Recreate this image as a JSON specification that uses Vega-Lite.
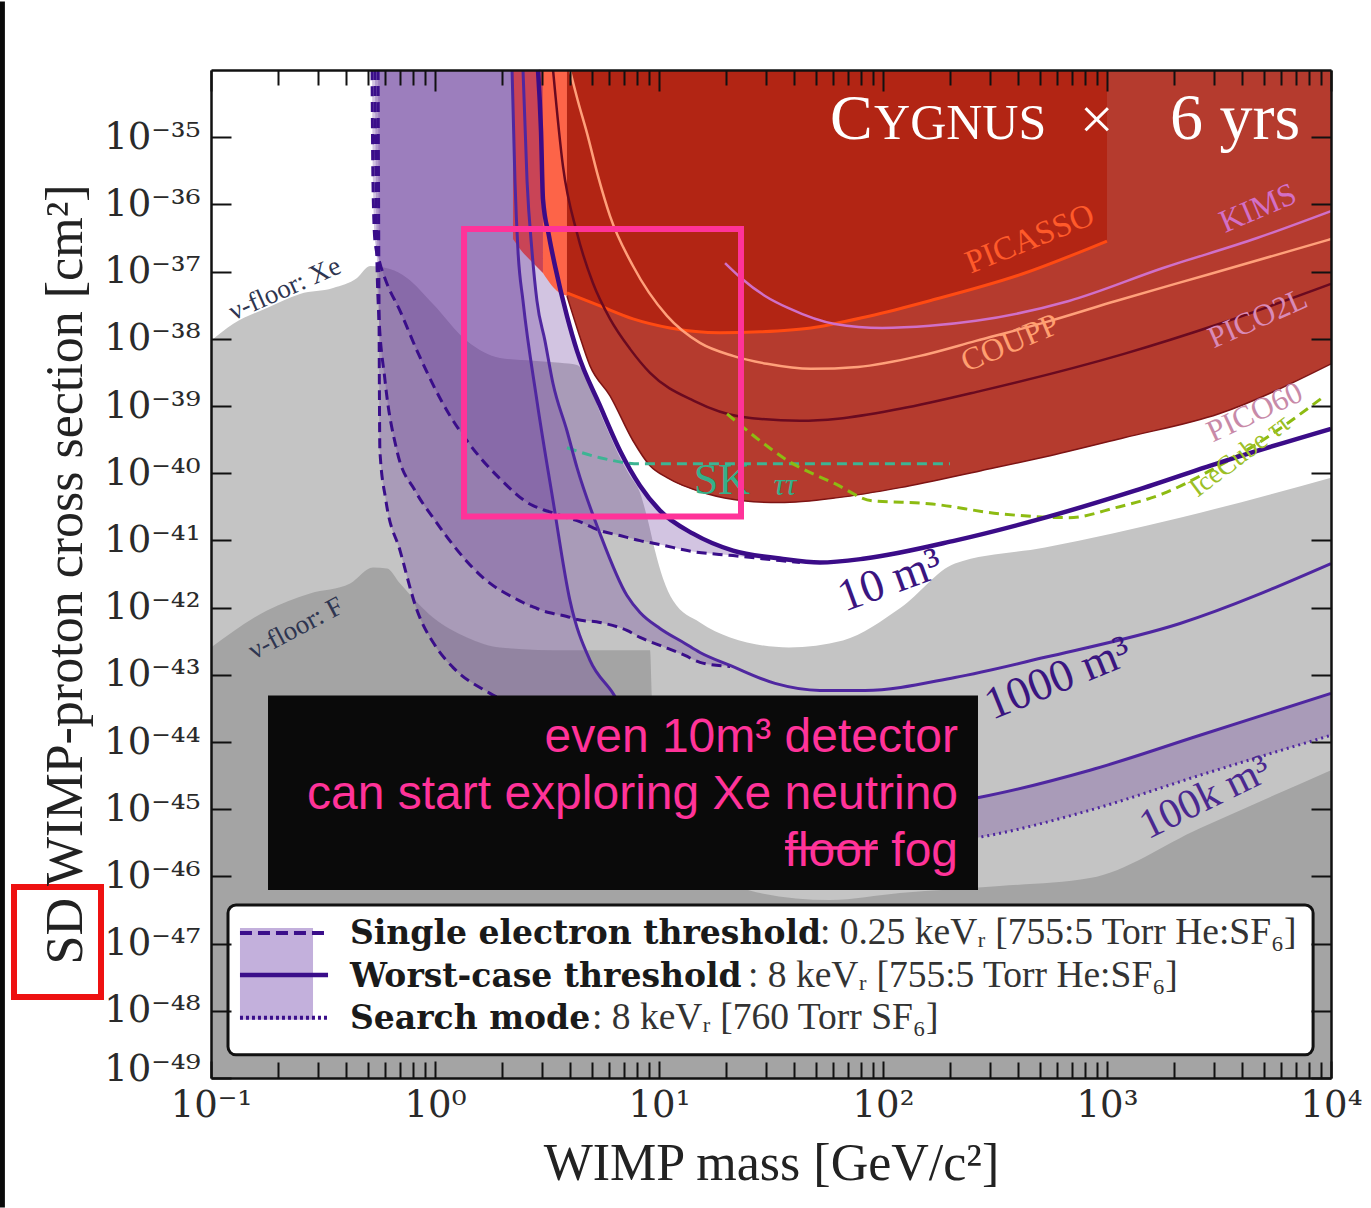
{
"$schema": "https://vega.github.io/schema/vega-lite/v6.json",
"width": 1120, "height": 1008,
"autosize": {"type": "none"},
"padding": {"left": 211, "top": 70, "right": 40, "bottom": 130},
"background": "white",
"config": {"view": {"stroke": null}, "font": "Liberation Serif"},
"resolve": {"axis": {"x": "independent", "y": "independent"}},
"datasets": {
"xe": [{"m":0.1,"s":9.31e-39},{"m":0.1253,"s":1.66e-38},{"m":0.1778,"s":2.88e-38},{"m":0.2495,"s":4.65e-38},{"m":0.3508,"s":5.7e-38},{"m":0.4487,"s":8.04e-38},{"m":0.5129,"s":1.21e-37},{"m":0.6295,"s":1.09e-37},{"m":0.7499,"s":8.04e-38},{"m":0.9796,"s":3.3e-38},{"m":1.389,"s":9.31e-39},{"m":1.95,"s":5.2e-39},{"m":2.739,"s":4.7e-39},{"m":3.614,"s":4.39e-39},{"m":4.305,"s":4.09e-39},{"m":4.92,"s":2.0e-39},{"m":5.453,"s":7.92e-40},{"m":6.045,"s":3.61e-40},{"m":6.698,"s":1.7e-40},{"m":7.422,"s":9.18e-41},{"m":8.227,"s":5.13e-41},{"m":8.924,"s":1.97e-41},{"m":9.594,"s":7.05e-42},{"m":10.42,"s":2.7e-42},{"m":11.55,"s":1.27e-42},{"m":15.24,"s":6.01e-43},{"m":20.77,"s":3.6e-43},{"m":38.05,"s":2.55e-43},{"m":66.26,"s":3.24e-43},{"m":120.3,"s":1.0e-42},{"m":209.5,"s":4.52e-42},{"m":528.4,"s":7.82e-42},{"m":2118,"s":2.18e-41},{"m":10000,"s":8.57e-41}],
"ff": [{"m":0.1,"s":2.55e-43},{"m":0.1778,"s":9.05e-43},{"m":0.2767,"s":1.62e-42},{"m":0.4178,"s":2.28e-42},{"m":0.5284,"s":3.94e-42},{"m":0.6109,"s":3.81e-42},{"m":0.6982,"s":2.28e-42},{"m":0.9796,"s":7.13e-43},{"m":1.389,"s":3.6e-43},{"m":1.95,"s":2.55e-43},{"m":3.882,"s":2.31e-43},{"m":9.12,"s":2.31e-43},{"m":9.31,"s":4.17e-44},{"m":15.24,"s":2.46e-46},{"m":28.25,"s":5.65e-47},{"m":57.99,"s":4.45e-47},{"m":119.1,"s":5.65e-47},{"m":332.7,"s":7.18e-47},{"m":839.5,"s":9.44e-47},{"m":2600,"s":5.22e-46},{"m":10000,"s":3.8e-45}],
"b10": [{"m":0.5236,"lo":1e-34,"hi":1e-34},{"m":0.5284,"lo":2.22e-36,"hi":1e-34},{"m":0.5395,"lo":2.85e-37,"hi":1e-34},{"m":0.5675,"lo":1.34e-37,"hi":1e-34},{"m":0.6039,"lo":7.24e-38,"hi":1e-34},{"m":0.6982,"lo":2.6e-38,"hi":1e-34},{"m":0.8318,"lo":6.61e-39,"hi":1e-34},{"m":1.167,"lo":7.15e-40,"hi":1e-34},{"m":1.389,"lo":3.04e-40,"hi":1e-34},{"m":1.95,"lo":8.28e-41,"hi":1e-34},{"m":2.739,"lo":3.29e-41,"hi":1e-34},{"m":2.884,"lo":3.07e-41,"hi":1e-34},{"m":2.974,"lo":2.97e-41,"hi":1.23e-35},{"m":3.034,"lo":2.87e-41,"hi":1.2e-36},{"m":3.228,"lo":2.68e-41,"hi":3.38e-37},{"m":3.434,"lo":2.5e-41,"hi":1.21e-37},{"m":3.882,"lo":2.18e-41,"hi":2.19e-38},{"m":4.305,"lo":1.97e-41,"hi":6.61e-39},{"m":5.453,"lo":1.4e-41,"hi":1.01e-39},{"m":6.698,"lo":1.18e-41,"hi":2.16e-40},{"m":8.227,"lo":9.93e-42,"hi":6.52e-41},{"m":10.1,"lo":8.67e-42,"hi":2.77e-41},{"m":14.19,"lo":6.81e-42,"hi":1.26e-41},{"m":21.4,"lo":5.94e-42,"hi":7.05e-42},{"m":34.68,"lo":5.01e-42,"hi":5.37e-42},{"m":42.59,"lo":4.68e-42,"hi":4.84e-42}],
"s10": [{"m":2.884,"s":1e-34},{"m":2.974,"s":1.23e-35},{"m":3.034,"s":1.2e-36},{"m":3.228,"s":3.38e-37},{"m":3.434,"s":1.21e-37},{"m":3.882,"s":2.19e-38},{"m":4.305,"s":6.61e-39},{"m":5.453,"s":1.01e-39},{"m":6.698,"s":2.16e-40},{"m":8.227,"s":6.52e-41},{"m":10.1,"s":2.77e-41},{"m":14.19,"s":1.26e-41},{"m":21.4,"s":7.05e-42},{"m":34.68,"s":5.37e-42},{"m":52.3,"s":4.68e-42},{"m":83.09,"s":5.37e-42},{"m":209.5,"s":9.93e-42},{"m":528.4,"s":2.18e-41},{"m":1334,"s":5.5e-41},{"m":3365,"s":1.53e-40},{"m":10000,"s":4.58e-40}],
"b1000": [{"m":0.5395,"lo":1e-34,"hi":1e-34},{"m":0.5457,"lo":1.12e-36,"hi":1e-34},{"m":0.5572,"lo":3.66e-38,"hi":1e-34},{"m":0.5984,"lo":2.37e-39,"hi":1e-34},{"m":0.6761,"lo":2.16e-40,"hi":1e-34},{"m":0.8147,"lo":5.5e-41,"hi":1e-34},{"m":0.9796,"lo":2.18e-41,"hi":1e-34},{"m":1.637,"lo":2.8e-42,"hi":1e-34},{"m":2.471,"lo":1.19e-42,"hi":1e-34},{"m":2.576,"lo":1.11e-42,"hi":2.22e-36},{"m":2.71,"lo":1.04e-42,"hi":2.02e-37},{"m":2.852,"lo":9.7e-43,"hi":3.66e-38},{"m":3.097,"lo":8.75e-43,"hi":9.31e-39},{"m":3.365,"lo":8.17e-43,"hi":2.14e-39},{"m":3.882,"lo":7.38e-43,"hi":4.28e-40},{"m":4.305,"lo":6.65e-43,"hi":1.21e-40},{"m":5.453,"lo":6.01e-43,"hi":1.26e-41},{"m":7.194,"lo":4.57e-43,"hi":1.51e-42},{"m":8.227,"lo":3.6e-43,"hi":8.45e-43},{"m":10.1,"lo":2.74e-43,"hi":4.89e-43},{"m":13.06,"lo":1.94e-43,"hi":2.93e-43},{"m":15.24,"lo":1.53e-43,"hi":2.15e-43},{"m":20.77,"lo":1.33e-43,"hi":1.38e-43}],
"s1000": [{"m":2.471,"s":1e-34},{"m":2.576,"s":2.22e-36},{"m":2.71,"s":2.02e-37},{"m":2.852,"s":3.66e-38},{"m":3.097,"s":9.31e-39},{"m":3.365,"s":2.14e-39},{"m":3.882,"s":4.28e-40},{"m":4.305,"s":1.21e-40},{"m":5.453,"s":1.26e-41},{"m":7.194,"s":1.51e-42},{"m":8.227,"s":8.45e-43},{"m":10.1,"s":4.89e-43},{"m":13.06,"s":2.93e-43},{"m":15.24,"s":2.15e-43},{"m":20.77,"s":1.38e-43},{"m":32.96,"s":7.45e-44},{"m":52.3,"s":5.86e-44},{"m":83.09,"s":5.86e-44},{"m":209.5,"s":9.14e-44},{"m":528.4,"s":1.82e-43},{"m":2118,"s":5.8e-43},{"m":10000,"s":4.52e-42}],
"b100k": [{"m":0.5572,"lo":1e-34,"hi":1e-34},{"m":0.5623,"lo":3.66e-38,"hi":1e-34},{"m":0.5675,"lo":2.16e-40,"hi":1e-34},{"m":0.6039,"lo":3.9e-41,"hi":1e-34},{"m":0.6982,"lo":7.05e-42,"hi":1e-34},{"m":0.8318,"lo":9.05e-43,"hi":1e-34},{"m":1.0,"lo":2.74e-43,"hi":1e-34},{"m":1.202,"lo":1.29e-43,"hi":1e-34},{"m":1.76,"lo":5.29e-44,"hi":1e-34},{"m":2.208,"lo":3.51e-44,"hi":1e-34},{"m":2.275,"lo":3.28e-44,"hi":2.22e-36},{"m":2.347,"lo":3.17e-44,"hi":2.02e-37},{"m":2.471,"lo":2.86e-44,"hi":3.66e-38},{"m":2.852,"lo":2.33e-44,"hi":1.19e-39},{"m":3.365,"lo":1.83e-44,"hi":3.9e-41},{"m":4.005,"lo":1.44e-44,"hi":1.27e-42},{"m":4.92,"lo":1.06e-44,"hi":1.64e-43},{"m":6.233,"lo":7.53e-45,"hi":5.29e-44},{"m":8.227,"lo":4.51e-45,"hi":1.06e-44},{"m":12.41,"lo":1.61e-45,"hi":3.2e-45},{"m":23.0,"lo":9.66e-46,"hi":1.36e-45},{"m":42.59,"lo":4.88e-46,"hi":9.66e-46},{"m":97.0,"lo":2.64e-46,"hi":9.66e-46},{"m":271.0,"lo":3.84e-46,"hi":1.51e-45},{"m":839.5,"lo":9.66e-46,"hi":3.8e-45},{"m":2600,"lo":3.2e-45,"hi":1.26e-44},{"m":10000,"lo":1.26e-44,"hi":5.29e-44}],
"pink": [{"m":2.229,"lo":3.05e-37},{"m":2.396,"lo":2.17e-37},{"m":2.739,"lo":1.34e-37},{"m":3.034,"lo":9.53e-38}],
"tomato": [{"m":3.034,"lo":9.53e-38},{"m":3.505,"lo":5.15e-38},{"m":3.882,"lo":4.34e-38}],
"p60": [{"m":3.882,"lo":4.34e-38},{"m":4.348,"lo":1.31e-38},{"m":4.92,"lo":3.95e-39},{"m":6.045,"lo":1.42e-39},{"m":7.656,"lo":3.04e-40},{"m":9.12,"lo":1.29e-40},{"m":10.86,"lo":8.57e-41},{"m":16.38,"lo":4.95e-41},{"m":23.71,"lo":3.9e-41},{"m":34.68,"lo":3.65e-41},{"m":62.95,"lo":4.33e-41},{"m":119.1,"lo":6.1e-41},{"m":273.8,"lo":1.09e-40},{"m":556.9,"lo":1.82e-40},{"m":1191,"lo":3.37e-40},{"m":3162,"lo":7.66e-40},{"m":10000,"lo":4.24e-39}],
"pic": [{"m":3.882,"lo":4.81e-38},{"m":5.453,"lo":3.08e-38},{"m":7.656,"lo":1.98e-38},{"m":11.2,"lo":1.45e-38},{"m":18.71,"lo":1.23e-38},{"m":28.25,"lo":1.27e-38},{"m":47.71,"lo":1.45e-38},{"m":87.54,"lo":2.19e-38},{"m":160.4,"lo":3.66e-38},{"m":417.8,"lo":9.2e-38},{"m":1000,"lo":2.85e-37}],
"pico2l": [{"m":3.365,"s":1e-34},{"m":3.726,"s":3.71e-36},{"m":4.305,"s":3.75e-37},{"m":5.07,"s":6.77e-38},{"m":6.045,"s":1.98e-38},{"m":7.422,"s":7.08e-39},{"m":9.12,"s":3.11e-39},{"m":14.32,"s":1.19e-39},{"m":23.23,"s":6.92e-40},{"m":42.59,"s":6.03e-40},{"m":62.95,"s":6.46e-40},{"m":119.1,"s":9.08e-40},{"m":273.8,"s":1.68e-39},{"m":1191,"s":5.97e-39},{"m":3162,"s":1.66e-38},{"m":10000,"s":6.55e-38}],
"coupp": [{"m":4.005,"s":1e-34},{"m":4.348,"s":3.43e-35},{"m":4.771,"s":1.15e-35},{"m":5.343,"s":2.63e-36},{"m":6.045,"s":6.7e-37},{"m":7.656,"s":1.21e-37},{"m":10.86,"s":2.19e-38},{"m":15.24,"s":8.69e-39},{"m":21.4,"s":5.57e-39},{"m":30.36,"s":4.24e-39},{"m":47.71,"s":3.57e-39},{"m":77.3,"s":3.82e-39},{"m":146.2,"s":5.57e-39},{"m":260,"s":9.31e-39},{"m":556.9,"s":1.85e-38},{"m":1096,"s":3.66e-38},{"m":2884,"s":9.2e-38},{"m":10000,"s":3.05e-37}],
"kims": [{"m":19.72,"s":1.34e-37},{"m":23.23,"s":8.04e-38},{"m":29.74,"s":4.34e-38},{"m":37.67,"s":2.88e-38},{"m":61.05,"s":1.66e-38},{"m":99.0,"s":1.45e-38},{"m":162.1,"s":1.56e-38},{"m":260,"s":1.85e-38},{"m":676.1,"s":3.66e-38},{"m":1778,"s":1.13e-37},{"m":4677,"s":3.16e-37},{"m":10000,"s":7.95e-37}],
"sk": [{"m":3.882,"s":2.39e-40},{"m":5.453,"s":1.7e-40},{"m":8.227,"s":1.38e-40},{"m":15.24,"s":1.38e-40},{"m":42.59,"s":1.38e-40},{"m":199.1,"s":1.38e-40}],
"ice": [{"m":20.12,"s":7.66e-40},{"m":28.25,"s":3.04e-40},{"m":37.67,"s":1.53e-40},{"m":61.05,"s":6.98e-41},{"m":89.34,"s":3.9e-41},{"m":160.4,"s":3.52e-41},{"m":329.6,"s":2.5e-41},{"m":676.1,"s":2.18e-41},{"m":1096,"s":3.07e-41},{"m":1778,"s":4.95e-41},{"m":2884,"s":1.09e-40},{"m":4677,"s":2.74e-40},{"m":9397,"s":1.42e-39}],
"labels": [{"k":"cygC","m":57.99,"s":9.34e-36,"text":"C"},{"k":"cygY","m":91.2,"s":9.34e-36,"text":"YGNUS"},{"k":"cygX","m":900,"s":9.34e-36,"text":"×"},{"k":"cygR","m":7278,"s":9.34e-36,"text":"6 yrs"},{"k":"picasso","m":453,"s":3.05e-37,"text":"PICASSO"},{"k":"kims","m":4721,"s":8.81e-37,"text":"KIMS"},{"k":"coupp","m":369,"s":8.69e-39,"text":"COUPP"},{"k":"pico2l","m":4721,"s":1.98e-38,"text":"PICO2L"},{"k":"pico60","m":4581,"s":7.92e-40,"text":"PICO60"},{"k":"ice","m":3926,"s":1.82e-40,"text":"IceCube ττ"},{"k":"sk","m":19.1,"s":7.74e-41,"text":"SK"},{"k":"sktt","m":36.5,"s":6.75e-41,"text":"ττ"},{"k":"v10","m":107.5,"s":2.53e-42,"text":"10 m³"},{"k":"v1000","m":604,"s":8.85e-44,"text":"1000 m³"},{"k":"v100k","m":2742,"s":1.51e-45,"text":"100k m³"},{"k":"xe","m":0.2138,"s":5.51e-38,"text":"ν-floor: Xe"},{"k":"f","m":0.2395,"s":4.89e-43,"text":"ν-floor: F"}],
"boxes": [{"k":"frame","m1":0.01143,"m2":0.01202,"s1":1.05e-33,"s2":1.18e-51},{"k":"pink","m1":1.348,"m2":23.23,"s1":4.3e-37,"s2":2.26e-41},{"k":"black","m1":0.1797,"m2":265.5,"s1":4.94e-44,"s2":6.25e-47},{"k":"legend","m1":0.1191,"m2":8318,"s1":3.75e-47,"s2":2.21e-49},{"k":"patch","m1":0.1347,"m2":0.2854,"s1":1.71e-47,"s2":7.33e-49},{"k":"sd","m1":0.0132,"m2":0.03228,"s1":6.93e-47,"s2":1.61e-48}],
"rules": [{"k":"dash","m1":0.1347,"m2":0.333,"s":1.44e-47},{"k":"solid","m1":0.1347,"m2":0.333,"s":3.41e-48},{"k":"dot","m1":0.1347,"m2":0.333,"s":7.85e-49},{"k":"strike","m1":36.5,"m2":95.0,"s":2.64e-46}],
"legend": [{"k":"b","m":0.4174,"s":9.86e-48,"text":"Single electron threshold"},{"k":"n","m":52.3,"s":9.86e-48,"text":": 0.25 keVᵣ [755:5 Torr He:SF₆]"},{"k":"b","m":0.4174,"s":2.26e-48,"text":"Worst-case threshold"},{"k":"n","m":24.97,"s":2.26e-48,"text":": 8 keVᵣ [755:5 Torr He:SF₆]"},{"k":"b","m":0.4174,"s":5.38e-49,"text":"Search mode"},{"k":"n","m":5.02,"s":5.38e-49,"text":": 8 keVᵣ [760 Torr SF₆]"}],
"notes": [{"m":216.3,"s":1.135e-44,"text":"even 10m³ detector"},{"m":216.3,"s":1.61e-45,"text":"can start exploring Xe neutrino"},{"m":216.3,"s":2.3e-46,"text":"floor fog"}],
"ax": [{"m":1,"s":1e-40}]
},
"layer": [
{"data":{"name":"xe"},"mark":{"type":"area","color":"#c4c4c4","interpolate":"monotone"},"encoding":{"x":{"field":"m","type":"quantitative","scale":{"type":"log","domain":[0.1,10000],"nice":false},"axis":null},"y":{"field":"s","type":"quantitative","scale":{"type":"log","domain":[1e-49,1e-34],"nice":false},"axis":null},"y2":{"datum":1e-49}}},
{"data":{"name":"ff"},"mark":{"type":"area","color":"#a4a4a4","interpolate":"monotone"},"encoding":{"x":{"field":"m","type":"quantitative","scale":{"type":"log","domain":[0.1,10000],"nice":false},"axis":null},"y":{"field":"s","type":"quantitative","scale":{"type":"log","domain":[1e-49,1e-34],"nice":false},"axis":null},"y2":{"datum":1e-49}}},
{"data":{"name":"b100k"},"mark":{"type":"area","color":"#6a3d9a","opacity":0.3,"interpolate":"monotone"},"encoding":{"x":{"field":"m","type":"quantitative","scale":{"type":"log","domain":[0.1,10000],"nice":false},"axis":null},"y":{"field":"lo","type":"quantitative","scale":{"type":"log","domain":[1e-49,1e-34],"nice":false},"axis":null},"y2":{"field":"hi"}}},
{"data":{"name":"b1000"},"mark":{"type":"area","color":"#6a3d9a","opacity":0.3,"interpolate":"monotone"},"encoding":{"x":{"field":"m","type":"quantitative","scale":{"type":"log","domain":[0.1,10000],"nice":false},"axis":null},"y":{"field":"lo","type":"quantitative","scale":{"type":"log","domain":[1e-49,1e-34],"nice":false},"axis":null},"y2":{"field":"hi"}}},
{"data":{"name":"b10"},"mark":{"type":"area","color":"#6a3d9a","opacity":0.3,"interpolate":"monotone"},"encoding":{"x":{"field":"m","type":"quantitative","scale":{"type":"log","domain":[0.1,10000],"nice":false},"axis":null},"y":{"field":"lo","type":"quantitative","scale":{"type":"log","domain":[1e-49,1e-34],"nice":false},"axis":null},"y2":{"field":"hi"}}},
{"data":{"name":"pink"},"mark":{"type":"area","color":"#c94456","interpolate":"monotone"},"encoding":{"x":{"field":"m","type":"quantitative","scale":{"type":"log","domain":[0.1,10000],"nice":false},"axis":null},"y":{"field":"lo","type":"quantitative","scale":{"type":"log","domain":[1e-49,1e-34],"nice":false},"axis":null},"y2":{"datum":1e-34}}},
{"data":{"name":"tomato"},"mark":{"type":"area","color":"#fd6448","interpolate":"monotone"},"encoding":{"x":{"field":"m","type":"quantitative","scale":{"type":"log","domain":[0.1,10000],"nice":false},"axis":null},"y":{"field":"lo","type":"quantitative","scale":{"type":"log","domain":[1e-49,1e-34],"nice":false},"axis":null},"y2":{"datum":1e-34}}},
{"data":{"name":"p60"},"mark":{"type":"area","color":"#b53b2e","interpolate":"monotone"},"encoding":{"x":{"field":"m","type":"quantitative","scale":{"type":"log","domain":[0.1,10000],"nice":false},"axis":null},"y":{"field":"lo","type":"quantitative","scale":{"type":"log","domain":[1e-49,1e-34],"nice":false},"axis":null},"y2":{"datum":1e-34}}},
{"data":{"name":"pic"},"mark":{"type":"area","color":"#b22514","interpolate":"monotone"},"encoding":{"x":{"field":"m","type":"quantitative","scale":{"type":"log","domain":[0.1,10000],"nice":false},"axis":null},"y":{"field":"lo","type":"quantitative","scale":{"type":"log","domain":[1e-49,1e-34],"nice":false},"axis":null},"y2":{"datum":1e-34}}},
{"data":{"name":"p60"},"mark":{"type":"line","color":"#7d1414","strokeWidth":1.5,"interpolate":"monotone"},"encoding":{"x":{"field":"m","type":"quantitative","scale":{"type":"log","domain":[0.1,10000],"nice":false},"axis":null},"y":{"field":"lo","type":"quantitative","scale":{"type":"log","domain":[1e-49,1e-34],"nice":false},"axis":null}}},
{"data":{"name":"pic"},"mark":{"type":"line","color":"#ff4a12","strokeWidth":3,"interpolate":"monotone"},"encoding":{"x":{"field":"m","type":"quantitative","scale":{"type":"log","domain":[0.1,10000],"nice":false},"axis":null},"y":{"field":"lo","type":"quantitative","scale":{"type":"log","domain":[1e-49,1e-34],"nice":false},"axis":null}}},
{"data":{"name":"coupp"},"mark":{"type":"line","color":"#ffa07a","strokeWidth":2.5,"interpolate":"monotone"},"encoding":{"x":{"field":"m","type":"quantitative","scale":{"type":"log","domain":[0.1,10000],"nice":false},"axis":null},"y":{"field":"s","type":"quantitative","scale":{"type":"log","domain":[1e-49,1e-34],"nice":false},"axis":null}}},
{"data":{"name":"pico2l"},"mark":{"type":"line","color":"#6a0a20","strokeWidth":2.5,"interpolate":"monotone"},"encoding":{"x":{"field":"m","type":"quantitative","scale":{"type":"log","domain":[0.1,10000],"nice":false},"axis":null},"y":{"field":"s","type":"quantitative","scale":{"type":"log","domain":[1e-49,1e-34],"nice":false},"axis":null}}},
{"data":{"name":"kims"},"mark":{"type":"line","color":"#d070c8","strokeWidth":2.5,"interpolate":"monotone"},"encoding":{"x":{"field":"m","type":"quantitative","scale":{"type":"log","domain":[0.1,10000],"nice":false},"axis":null},"y":{"field":"s","type":"quantitative","scale":{"type":"log","domain":[1e-49,1e-34],"nice":false},"axis":null}}},
{"data":{"name":"sk"},"mark":{"type":"line","color":"#3db493","strokeWidth":3,"strokeDash":[10,6],"interpolate":"monotone"},"encoding":{"x":{"field":"m","type":"quantitative","scale":{"type":"log","domain":[0.1,10000],"nice":false},"axis":null},"y":{"field":"s","type":"quantitative","scale":{"type":"log","domain":[1e-49,1e-34],"nice":false},"axis":null}}},
{"data":{"name":"ice"},"mark":{"type":"line","color":"#8dbb12","strokeWidth":3,"strokeDash":[10,6],"interpolate":"monotone"},"encoding":{"x":{"field":"m","type":"quantitative","scale":{"type":"log","domain":[0.1,10000],"nice":false},"axis":null},"y":{"field":"s","type":"quantitative","scale":{"type":"log","domain":[1e-49,1e-34],"nice":false},"axis":null}}},
{"data":{"name":"b10"},"mark":{"type":"line","color":"#3a0e8a","strokeWidth":3,"strokeDash":[10,6],"interpolate":"monotone"},"encoding":{"x":{"field":"m","type":"quantitative","scale":{"type":"log","domain":[0.1,10000],"nice":false},"axis":null},"y":{"field":"lo","type":"quantitative","scale":{"type":"log","domain":[1e-49,1e-34],"nice":false},"axis":null}}},
{"data":{"name":"b1000"},"mark":{"type":"line","color":"#3a0e8a","strokeWidth":3,"strokeDash":[10,6],"interpolate":"monotone"},"encoding":{"x":{"field":"m","type":"quantitative","scale":{"type":"log","domain":[0.1,10000],"nice":false},"axis":null},"y":{"field":"lo","type":"quantitative","scale":{"type":"log","domain":[1e-49,1e-34],"nice":false},"axis":null}}},
{"data":{"name":"b100k"},"transform":[{"filter":"datum.m <= 6"}],"mark":{"type":"line","color":"#3a0e8a","strokeWidth":3,"strokeDash":[10,6],"interpolate":"monotone"},"encoding":{"x":{"field":"m","type":"quantitative","scale":{"type":"log","domain":[0.1,10000],"nice":false},"axis":null},"y":{"field":"lo","type":"quantitative","scale":{"type":"log","domain":[1e-49,1e-34],"nice":false},"axis":null}}},
{"data":{"name":"s10"},"mark":{"type":"line","color":"#3b0c88","strokeWidth":4.5,"interpolate":"monotone"},"encoding":{"x":{"field":"m","type":"quantitative","scale":{"type":"log","domain":[0.1,10000],"nice":false},"axis":null},"y":{"field":"s","type":"quantitative","scale":{"type":"log","domain":[1e-49,1e-34],"nice":false},"axis":null}}},
{"data":{"name":"s1000"},"mark":{"type":"line","color":"#4f27a0","strokeWidth":3,"interpolate":"monotone"},"encoding":{"x":{"field":"m","type":"quantitative","scale":{"type":"log","domain":[0.1,10000],"nice":false},"axis":null},"y":{"field":"s","type":"quantitative","scale":{"type":"log","domain":[1e-49,1e-34],"nice":false},"axis":null}}},
{"data":{"name":"b100k"},"transform":[{"filter":"datum.m >= 2.2"}],"mark":{"type":"line","color":"#4f27a0","strokeWidth":3,"interpolate":"monotone"},"encoding":{"x":{"field":"m","type":"quantitative","scale":{"type":"log","domain":[0.1,10000],"nice":false},"axis":null},"y":{"field":"hi","type":"quantitative","scale":{"type":"log","domain":[1e-49,1e-34],"nice":false},"axis":null}}},
{"data":{"name":"b100k"},"transform":[{"filter":"datum.m >= 90"}],"mark":{"type":"line","color":"#4f27a0","strokeWidth":3,"strokeDash":[2,4],"interpolate":"monotone"},"encoding":{"x":{"field":"m","type":"quantitative","scale":{"type":"log","domain":[0.1,10000],"nice":false},"axis":null},"y":{"field":"lo","type":"quantitative","scale":{"type":"log","domain":[1e-49,1e-34],"nice":false},"axis":null}}},
{"data":{"name":"labels"},"transform":[{"filter":"datum.k == 'cygC'"}],"mark":{"type":"text","font":"Liberation Serif","fontSize":64,"color":"white","align":"left","baseline":"alphabetic"},"encoding":{"x":{"field":"m","type":"quantitative","scale":{"type":"log","domain":[0.1,10000],"nice":false},"axis":null},"y":{"field":"s","type":"quantitative","scale":{"type":"log","domain":[1e-49,1e-34],"nice":false},"axis":null},"text":{"field":"text"}}},
{"data":{"name":"labels"},"transform":[{"filter":"datum.k == 'cygY'"}],"mark":{"type":"text","font":"Liberation Serif","fontSize":50,"color":"white","align":"left","baseline":"alphabetic"},"encoding":{"x":{"field":"m","type":"quantitative","scale":{"type":"log","domain":[0.1,10000],"nice":false},"axis":null},"y":{"field":"s","type":"quantitative","scale":{"type":"log","domain":[1e-49,1e-34],"nice":false},"axis":null},"text":{"field":"text"}}},
{"data":{"name":"labels"},"transform":[{"filter":"datum.k == 'cygX'"}],"mark":{"type":"text","font":"Liberation Serif","fontSize":60,"color":"white","align":"center","baseline":"alphabetic"},"encoding":{"x":{"field":"m","type":"quantitative","scale":{"type":"log","domain":[0.1,10000],"nice":false},"axis":null},"y":{"field":"s","type":"quantitative","scale":{"type":"log","domain":[1e-49,1e-34],"nice":false},"axis":null},"text":{"field":"text"}}},
{"data":{"name":"labels"},"transform":[{"filter":"datum.k == 'cygR'"}],"mark":{"type":"text","font":"Liberation Serif","fontSize":66,"color":"white","align":"right","baseline":"alphabetic"},"encoding":{"x":{"field":"m","type":"quantitative","scale":{"type":"log","domain":[0.1,10000],"nice":false},"axis":null},"y":{"field":"s","type":"quantitative","scale":{"type":"log","domain":[1e-49,1e-34],"nice":false},"axis":null},"text":{"field":"text"}}},
{"data":{"name":"labels"},"transform":[{"filter":"datum.k == 'picasso'"}],"mark":{"type":"text","font":"Liberation Serif","fontSize":33,"color":"#ff5a2a","angle":338,"align":"center","baseline":"middle"},"encoding":{"x":{"field":"m","type":"quantitative","scale":{"type":"log","domain":[0.1,10000],"nice":false},"axis":null},"y":{"field":"s","type":"quantitative","scale":{"type":"log","domain":[1e-49,1e-34],"nice":false},"axis":null},"text":{"field":"text"}}},
{"data":{"name":"labels"},"transform":[{"filter":"datum.k == 'kims'"}],"mark":{"type":"text","font":"Liberation Serif","fontSize":32,"color":"#d36fc6","angle":337,"align":"center","baseline":"middle"},"encoding":{"x":{"field":"m","type":"quantitative","scale":{"type":"log","domain":[0.1,10000],"nice":false},"axis":null},"y":{"field":"s","type":"quantitative","scale":{"type":"log","domain":[1e-49,1e-34],"nice":false},"axis":null},"text":{"field":"text"}}},
{"data":{"name":"labels"},"transform":[{"filter":"datum.k == 'coupp'"}],"mark":{"type":"text","font":"Liberation Serif","fontSize":32,"color":"#ff9f70","angle":337,"align":"center","baseline":"middle"},"encoding":{"x":{"field":"m","type":"quantitative","scale":{"type":"log","domain":[0.1,10000],"nice":false},"axis":null},"y":{"field":"s","type":"quantitative","scale":{"type":"log","domain":[1e-49,1e-34],"nice":false},"axis":null},"text":{"field":"text"}}},
{"data":{"name":"labels"},"transform":[{"filter":"datum.k == 'pico2l'"}],"mark":{"type":"text","font":"Liberation Serif","fontSize":31,"color":"#d98ab8","angle":336,"align":"center","baseline":"middle"},"encoding":{"x":{"field":"m","type":"quantitative","scale":{"type":"log","domain":[0.1,10000],"nice":false},"axis":null},"y":{"field":"s","type":"quantitative","scale":{"type":"log","domain":[1e-49,1e-34],"nice":false},"axis":null},"text":{"field":"text"}}},
{"data":{"name":"labels"},"transform":[{"filter":"datum.k == 'pico60'"}],"mark":{"type":"text","font":"Liberation Serif","fontSize":31,"color":"#c88aa8","angle":335,"align":"center","baseline":"middle"},"encoding":{"x":{"field":"m","type":"quantitative","scale":{"type":"log","domain":[0.1,10000],"nice":false},"axis":null},"y":{"field":"s","type":"quantitative","scale":{"type":"log","domain":[1e-49,1e-34],"nice":false},"axis":null},"text":{"field":"text"}}},
{"data":{"name":"labels"},"transform":[{"filter":"datum.k == 'ice'"}],"mark":{"type":"text","font":"Liberation Serif","fontSize":27,"color":"#9cbf26","angle":323,"align":"center","baseline":"middle"},"encoding":{"x":{"field":"m","type":"quantitative","scale":{"type":"log","domain":[0.1,10000],"nice":false},"axis":null},"y":{"field":"s","type":"quantitative","scale":{"type":"log","domain":[1e-49,1e-34],"nice":false},"axis":null},"text":{"field":"text"}}},
{"data":{"name":"labels"},"transform":[{"filter":"datum.k == 'sk'"}],"mark":{"type":"text","font":"Liberation Serif","fontSize":44,"color":"#35b08a","align":"center","baseline":"middle"},"encoding":{"x":{"field":"m","type":"quantitative","scale":{"type":"log","domain":[0.1,10000],"nice":false},"axis":null},"y":{"field":"s","type":"quantitative","scale":{"type":"log","domain":[1e-49,1e-34],"nice":false},"axis":null},"text":{"field":"text"}}},
{"data":{"name":"labels"},"transform":[{"filter":"datum.k == 'sktt'"}],"mark":{"type":"text","font":"Liberation Serif","fontSize":32,"fontStyle":"italic","color":"#35b08a","align":"center","baseline":"middle"},"encoding":{"x":{"field":"m","type":"quantitative","scale":{"type":"log","domain":[0.1,10000],"nice":false},"axis":null},"y":{"field":"s","type":"quantitative","scale":{"type":"log","domain":[1e-49,1e-34],"nice":false},"axis":null},"text":{"field":"text"}}},
{"data":{"name":"labels"},"transform":[{"filter":"datum.k == 'v10'"}],"mark":{"type":"text","font":"Liberation Serif","fontSize":46,"color":"#3a1580","angle":340,"align":"center","baseline":"middle"},"encoding":{"x":{"field":"m","type":"quantitative","scale":{"type":"log","domain":[0.1,10000],"nice":false},"axis":null},"y":{"field":"s","type":"quantitative","scale":{"type":"log","domain":[1e-49,1e-34],"nice":false},"axis":null},"text":{"field":"text"}}},
{"data":{"name":"labels"},"transform":[{"filter":"datum.k == 'v1000'"}],"mark":{"type":"text","font":"Liberation Serif","fontSize":46,"color":"#3a1580","angle":338,"align":"center","baseline":"middle"},"encoding":{"x":{"field":"m","type":"quantitative","scale":{"type":"log","domain":[0.1,10000],"nice":false},"axis":null},"y":{"field":"s","type":"quantitative","scale":{"type":"log","domain":[1e-49,1e-34],"nice":false},"axis":null},"text":{"field":"text"}}},
{"data":{"name":"labels"},"transform":[{"filter":"datum.k == 'v100k'"}],"mark":{"type":"text","font":"Liberation Serif","fontSize":42,"color":"#4a2890","angle":334,"align":"center","baseline":"middle"},"encoding":{"x":{"field":"m","type":"quantitative","scale":{"type":"log","domain":[0.1,10000],"nice":false},"axis":null},"y":{"field":"s","type":"quantitative","scale":{"type":"log","domain":[1e-49,1e-34],"nice":false},"axis":null},"text":{"field":"text"}}},
{"data":{"name":"labels"},"transform":[{"filter":"datum.k == 'xe'"}],"mark":{"type":"text","font":"Liberation Serif","fontSize":27,"color":"#2e3550","angle":336,"align":"center","baseline":"middle"},"encoding":{"x":{"field":"m","type":"quantitative","scale":{"type":"log","domain":[0.1,10000],"nice":false},"axis":null},"y":{"field":"s","type":"quantitative","scale":{"type":"log","domain":[1e-49,1e-34],"nice":false},"axis":null},"text":{"field":"text"}}},
{"data":{"name":"labels"},"transform":[{"filter":"datum.k == 'f'"}],"mark":{"type":"text","font":"Liberation Serif","fontSize":27,"color":"#2e3550","angle":332,"align":"center","baseline":"middle"},"encoding":{"x":{"field":"m","type":"quantitative","scale":{"type":"log","domain":[0.1,10000],"nice":false},"axis":null},"y":{"field":"s","type":"quantitative","scale":{"type":"log","domain":[1e-49,1e-34],"nice":false},"axis":null},"text":{"field":"text"}}},
{"data":{"name":"boxes"},"transform":[{"filter":"datum.k == 'pink'"}],"mark":{"type":"rect","filled":false,"stroke":"#ff3399","strokeWidth":6},"encoding":{"x":{"field":"m1","type":"quantitative","scale":{"type":"log","domain":[0.1,10000],"nice":false},"axis":null},"x2":{"field":"m2"},"y":{"field":"s1","type":"quantitative","scale":{"type":"log","domain":[1e-49,1e-34],"nice":false},"axis":null},"y2":{"field":"s2"}}},
{"data":{"name":"boxes"},"transform":[{"filter":"datum.k == 'black' || datum.k == 'frame'"}],"mark":{"type":"rect","color":"#0a0a0a"},"encoding":{"x":{"field":"m1","type":"quantitative","scale":{"type":"log","domain":[0.1,10000],"nice":false},"axis":null},"x2":{"field":"m2"},"y":{"field":"s1","type":"quantitative","scale":{"type":"log","domain":[1e-49,1e-34],"nice":false},"axis":null},"y2":{"field":"s2"}}},
{"data":{"name":"notes"},"mark":{"type":"text","font":"Liberation Sans","fontSize":48,"color":"#ff3399","align":"right","baseline":"middle"},"encoding":{"x":{"field":"m","type":"quantitative","scale":{"type":"log","domain":[0.1,10000],"nice":false},"axis":null},"y":{"field":"s","type":"quantitative","scale":{"type":"log","domain":[1e-49,1e-34],"nice":false},"axis":null},"text":{"field":"text"}}},
{"data":{"name":"rules"},"transform":[{"filter":"datum.k == 'strike'"}],"mark":{"type":"rule","color":"#ff3399","strokeWidth":3.5},"encoding":{"x":{"field":"m1","type":"quantitative","scale":{"type":"log","domain":[0.1,10000],"nice":false},"axis":null},"x2":{"field":"m2"},"y":{"field":"s","type":"quantitative","scale":{"type":"log","domain":[1e-49,1e-34],"nice":false},"axis":null}}},
{"data":{"name":"boxes"},"transform":[{"filter":"datum.k == 'legend'"}],"mark":{"type":"rect","fill":"white","stroke":"#111111","strokeWidth":3,"cornerRadius":8},"encoding":{"x":{"field":"m1","type":"quantitative","scale":{"type":"log","domain":[0.1,10000],"nice":false},"axis":null},"x2":{"field":"m2"},"y":{"field":"s1","type":"quantitative","scale":{"type":"log","domain":[1e-49,1e-34],"nice":false},"axis":null},"y2":{"field":"s2"}}},
{"data":{"name":"boxes"},"transform":[{"filter":"datum.k == 'patch'"}],"mark":{"type":"rect","color":"#c3b0dc"},"encoding":{"x":{"field":"m1","type":"quantitative","scale":{"type":"log","domain":[0.1,10000],"nice":false},"axis":null},"x2":{"field":"m2"},"y":{"field":"s1","type":"quantitative","scale":{"type":"log","domain":[1e-49,1e-34],"nice":false},"axis":null},"y2":{"field":"s2"}}},
{"data":{"name":"rules"},"transform":[{"filter":"datum.k == 'dash'"}],"mark":{"type":"rule","color":"#3a0e8a","strokeWidth":4,"strokeDash":[12,6]},"encoding":{"x":{"field":"m1","type":"quantitative","scale":{"type":"log","domain":[0.1,10000],"nice":false},"axis":null},"x2":{"field":"m2"},"y":{"field":"s","type":"quantitative","scale":{"type":"log","domain":[1e-49,1e-34],"nice":false},"axis":null}}},
{"data":{"name":"rules"},"transform":[{"filter":"datum.k == 'solid'"}],"mark":{"type":"rule","color":"#3a0e8a","strokeWidth":4.5},"encoding":{"x":{"field":"m1","type":"quantitative","scale":{"type":"log","domain":[0.1,10000],"nice":false},"axis":null},"x2":{"field":"m2"},"y":{"field":"s","type":"quantitative","scale":{"type":"log","domain":[1e-49,1e-34],"nice":false},"axis":null}}},
{"data":{"name":"rules"},"transform":[{"filter":"datum.k == 'dot'"}],"mark":{"type":"rule","color":"#3a0e8a","strokeWidth":4,"strokeDash":[3,3]},"encoding":{"x":{"field":"m1","type":"quantitative","scale":{"type":"log","domain":[0.1,10000],"nice":false},"axis":null},"x2":{"field":"m2"},"y":{"field":"s","type":"quantitative","scale":{"type":"log","domain":[1e-49,1e-34],"nice":false},"axis":null}}},
{"data":{"name":"legend"},"transform":[{"filter":"datum.k == 'b'"}],"mark":{"type":"text","font":"DejaVu Serif","fontWeight":"bold","fontSize":33,"color":"#1a1a1a","align":"left","baseline":"alphabetic"},"encoding":{"x":{"field":"m","type":"quantitative","scale":{"type":"log","domain":[0.1,10000],"nice":false},"axis":null},"y":{"field":"s","type":"quantitative","scale":{"type":"log","domain":[1e-49,1e-34],"nice":false},"axis":null},"text":{"field":"text"}}},
{"data":{"name":"legend"},"transform":[{"filter":"datum.k == 'n'"}],"mark":{"type":"text","font":"Liberation Serif","fontSize":37.5,"color":"#333333","align":"left","baseline":"alphabetic"},"encoding":{"x":{"field":"m","type":"quantitative","scale":{"type":"log","domain":[0.1,10000],"nice":false},"axis":null},"y":{"field":"s","type":"quantitative","scale":{"type":"log","domain":[1e-49,1e-34],"nice":false},"axis":null},"text":{"field":"text"}}},
{"data":{"name":"boxes"},"transform":[{"filter":"datum.k == 'sd'"}],"mark":{"type":"rect","filled":false,"stroke":"#ee1111","strokeWidth":6},"encoding":{"x":{"field":"m1","type":"quantitative","scale":{"type":"log","domain":[0.1,10000],"nice":false},"axis":null},"x2":{"field":"m2"},"y":{"field":"s1","type":"quantitative","scale":{"type":"log","domain":[1e-49,1e-34],"nice":false},"axis":null},"y2":{"field":"s2"}}},
{"data":{"name":"ax"},"mark":{"type":"point","opacity":0},"encoding":{
 "x":{"field":"m","type":"quantitative","scale":{"type":"log","domain":[0.1,10000],"nice":false},"axis":{"orient":"bottom","values":[0.1,1,10,100,1000,10000],"tickSize":-17,"tickWidth":2,"tickColor":"#111","domainColor":"#111","domainWidth":2.5,"grid":false,"zindex":3,"labelFont":"DejaVu Serif","labelFontSize":37,"labelColor":"#2a2a2a","labelPadding":26,"labelFlush":false,"labelOverlap":false,"labelExpr":"'10' + ['⁻¹','⁰','¹','²','³','⁴'][round(log(datum.value)/LN10)+1]","title":"WIMP mass [GeV/c²]","titleFont":"Liberation Serif","titleFontSize":52,"titleFontWeight":"normal","titleColor":"#222","titleX":560,"titleY":85,"titleBaseline":"middle","titleAlign":"center"}},
 "y":{"field":"s","type":"quantitative","scale":{"type":"log","domain":[1e-49,1e-34],"nice":false},"axis":{"orient":"left","values":[1e-49,1e-48,1e-47,1e-46,1e-45,1e-44,1e-43,1e-42,1e-41,1e-40,1e-39,1e-38,1e-37,1e-36,1e-35],"tickSize":-20,"tickWidth":2,"tickColor":"#111","domainColor":"#111","domainWidth":2.5,"grid":false,"zindex":3,"labelFont":"DejaVu Serif","labelFontSize":37,"labelColor":"#2a2a2a","labelPadding":31,"labelOverlap":false,"labelOffset":{"condition":{"test":"datum.value < 2e-49","value":-9},"value":0},"labelExpr":"'10' + ['⁻⁴⁹','⁻⁴⁸','⁻⁴⁷','⁻⁴⁶','⁻⁴⁵','⁻⁴⁴','⁻⁴³','⁻⁴²','⁻⁴¹','⁻⁴⁰','⁻³⁹','⁻³⁸','⁻³⁷','⁻³⁶','⁻³⁵'][round(log(datum.value)/LN10)+49]","title":"SD WIMP-proton cross section [cm²]","titleFont":"Liberation Serif","titleFontSize":52,"titleFontWeight":"normal","titleColor":"#222","titleX":-146,"titleY":504,"titleAngle":-90,"titleBaseline":"middle","titleAlign":"center"}}}},
{"data":{"name":"ax"},"mark":{"type":"point","opacity":0},"encoding":{
 "x":{"field":"m","type":"quantitative","scale":{"type":"log","domain":[0.1,10000],"nice":false},"axis":{"orient":"bottom","values":[0.2,0.3,0.4,0.5,0.6,0.7,0.8,0.9,2,3,4,5,6,7,8,9,20,30,40,50,60,70,80,90,200,300,400,500,600,700,800,900,2000,3000,4000,5000,6000,7000,8000,9000],"tickSize":-16,"tickWidth":2,"tickColor":"#111","domain":false,"labels":false,"grid":false,"zindex":3,"title":null}},
 "y":{"field":"s","type":"quantitative","scale":{"type":"log","domain":[1e-49,1e-34],"nice":false},"axis":{"orient":"right","values":[1e-49,1e-48,1e-47,1e-46,1e-45,1e-44,1e-43,1e-42,1e-41,1e-40,1e-39,1e-38,1e-37,1e-36,1e-35],"tickSize":-20,"tickWidth":2,"tickColor":"#111","domainColor":"#111","domainWidth":2.5,"labels":false,"grid":false,"zindex":3,"title":null}}}},
{"data":{"name":"ax"},"mark":{"type":"point","opacity":0},"encoding":{
 "x":{"field":"m","type":"quantitative","scale":{"type":"log","domain":[0.1,10000],"nice":false},"axis":{"orient":"top","values":[0.1,1,10,100,1000,10000],"tickSize":-21,"tickWidth":2,"tickColor":"#111","domainColor":"#111","domainWidth":2.5,"labels":false,"grid":false,"zindex":3,"title":null}},
 "y":{"field":"s","type":"quantitative","scale":{"type":"log","domain":[1e-49,1e-34],"nice":false},"axis":null}}},
{"data":{"name":"ax"},"mark":{"type":"point","opacity":0},"encoding":{
 "x":{"field":"m","type":"quantitative","scale":{"type":"log","domain":[0.1,10000],"nice":false},"axis":{"orient":"top","values":[0.2,0.3,0.4,0.5,0.6,0.7,0.8,0.9,2,3,4,5,6,7,8,9,20,30,40,50,60,70,80,90,200,300,400,500,600,700,800,900,2000,3000,4000,5000,6000,7000,8000,9000],"tickSize":-15,"tickWidth":2,"tickColor":"#111","domain":false,"labels":false,"grid":false,"zindex":3,"title":null}},
 "y":{"field":"s","type":"quantitative","scale":{"type":"log","domain":[1e-49,1e-34],"nice":false},"axis":null}}}
]
}
